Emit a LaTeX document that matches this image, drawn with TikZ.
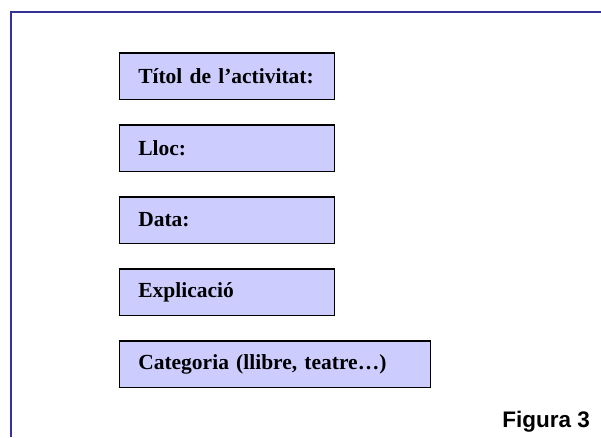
\documentclass[tikz,border=0pt]{standalone}
\usepackage{fontspec}
\setmainfont{Liberation Serif}
\newfontfamily\figfont{Liberation Sans}
\usepackage{tikz}
\usetikzlibrary{positioning}
\definecolor{marc}{RGB}{51,51,153}
\definecolor{lila}{RGB}{204,204,255}

\begin{document}
\begin{tikzpicture}[x=1pt,y=-1pt,font=\fontsize{21.5}{25}\selectfont\bfseries,
        caixa/.style={draw=black,line width=1.5pt,fill=lila,anchor=north west,
            minimum height=46.5pt,inner xsep=19pt,align=left,text width=#1}]
        \useasboundingbox (0,0) rectangle (601,437);
        \draw[marc,line width=2pt] (10.5,437) -- (10.5,11.5) -- (601,11.5);
        \foreach \nom/\text/\y/\amp in {titol/{Títol de l’activitat:}/52/177,
                lloc/{Lloc:}/124/177, data/{Data:}/196/177,
                explicacio/{Explicació}/268/177,
                categoria/{Categoria (llibre, teatre…)}/340/273} {
            \node[caixa=\amp pt] (\nom) at (118.5,\y) {\text};
        }
        \node[anchor=base east,inner sep=0pt,font=\figfont\fontsize{22.5}{26}\selectfont\bfseries]
            (figura) at (590,427.7) {Figura 3};
\end{tikzpicture}
\end{document}
